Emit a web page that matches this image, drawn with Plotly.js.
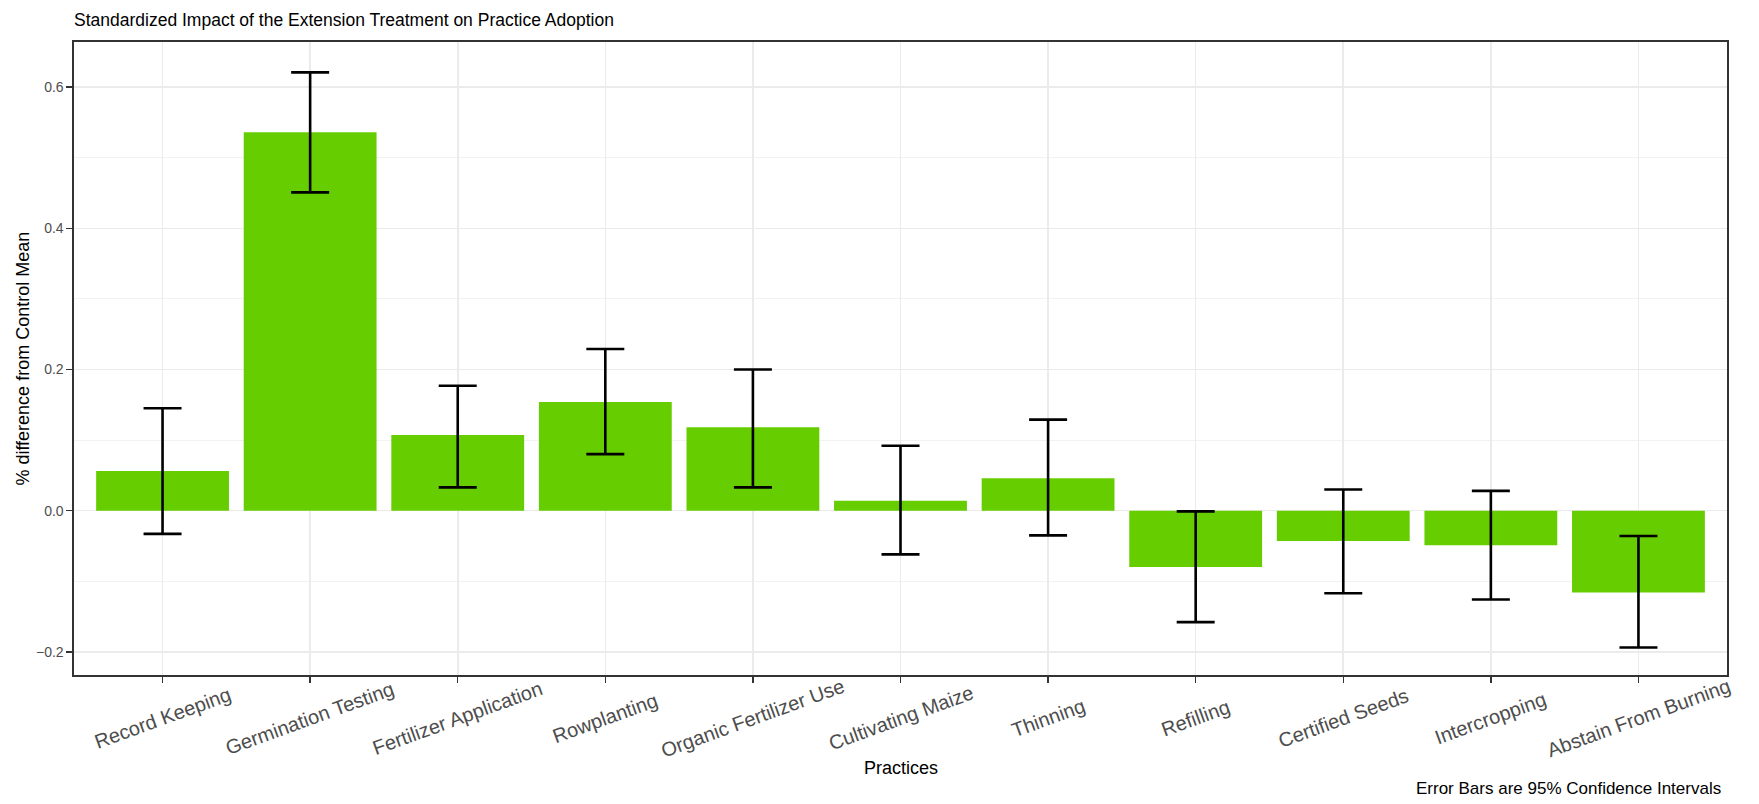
<!DOCTYPE html>
<html>
<head>
<meta charset="utf-8">
<script src="https://cdn.plot.ly/plotly-3.0.1.min.js"></script>
<style>
  html, body { margin: 0; padding: 0; background: #ffffff; }
  #chart { width: 1759px; height: 804px; }
</style>
</head>
<body>
<div id="chart"></div>
<script>
// Practices on the x axis
const practices = [
  "Record Keeping", "Germination Testing", "Fertilizer Application", "Rowplanting",
  "Organic Fertilizer Use", "Cultivating Maize", "Thinning", "Refilling",
  "Certified Seeds", "Intercropping", "Abstain From Burning"
];
// Standardized treatment effect (difference from control mean)
const estimate = [0.056, 0.536, 0.107, 0.154, 0.118, 0.014, 0.046, -0.080, -0.043, -0.049, -0.116];
// 95% confidence interval bounds
const ciLower = [-0.033, 0.451, 0.033, 0.080, 0.033, -0.062, -0.035, -0.158, -0.117, -0.126, -0.194];
const ciUpper = [0.145, 0.621, 0.177, 0.229, 0.200, 0.092, 0.129, -0.001, 0.030, 0.028, -0.036];
// y axis tick values
const yTicks = [-0.2, 0.0, 0.2, 0.4, 0.6];

const FONT = "Liberation Sans, Arial, Helvetica, sans-serif";

const errPlus = estimate.map((v, i) => ciUpper[i] - v);
const errMinus = estimate.map((v, i) => v - ciLower[i]);

const trace = {
  type: "bar",
  x: practices,
  y: estimate,
  marker: { color: "#66CD00", line: { width: 0 } },
  error_y: {
    type: "data",
    symmetric: false,
    array: errPlus,
    arrayminus: errMinus,
    color: "#000000",
    thickness: 2.6,
    width: 19
  },
  hoverinfo: "x+y"
};

// Rotated category labels centred under each tick
const labelAnnotations = practices.map(p => ({
  text: p,
  x: p, xref: "x",
  y: -0.068, yref: "paper",
  xanchor: "center", yanchor: "middle",
  textangle: -20,
  showarrow: false,
  font: { family: FONT, size: 20, color: "#4D4D4D" }
}));

// Plot area in page pixels
const M = { l: 74, r: 31.5, t: 41.5, b: 129 };
const plotW = 1759 - M.l - M.r;

const layout = {
  width: 1759,
  height: 804,
  paper_bgcolor: "#ffffff",
  plot_bgcolor: "#ffffff",
  margin: M,
  bargap: 0.1,
  showlegend: false,
  font: { family: FONT },
  title: {
    text: "Standardized Impact of the Extension Treatment on Practice Adoption",
    font: { family: FONT, size: 17.5, color: "#000000" },
    x: 74 / 1759, xref: "container", xanchor: "left",
    y: 1 - 20 / 804, yref: "container", yanchor: "middle"
  },
  xaxis: {
    type: "category",
    range: [-0.6, 10.6],
    showticklabels: false,
    ticks: "outside",
    ticklen: 6,
    tickwidth: 1.5,
    tickcolor: "#333333",
    showgrid: true,
    gridcolor: "#EBEBEB",
    gridwidth: 1.6,
    showline: true,
    linecolor: "#333333",
    linewidth: 1.6,
    mirror: true,
    zeroline: false,
    fixedrange: true
  },
  yaxis: {
    range: [-0.2329, 0.664],
    tickvals: yTicks,
    tickformat: ".1f",
    ticks: "outside",
    ticklen: 6,
    tickwidth: 1.5,
    tickcolor: "#333333",
    tickfont: { family: FONT, size: 14, color: "#4D4D4D" },
    showgrid: true,
    gridcolor: "#EBEBEB",
    gridwidth: 1.6,
    minor: { dtick: 0.1, tick0: 0, showgrid: true, gridcolor: "#F2F2F2", gridwidth: 1 },
    showline: true,
    linecolor: "#333333",
    linewidth: 1.6,
    mirror: true,
    zeroline: false,
    fixedrange: true
  },
  annotations: labelAnnotations.concat([
    {
      text: "Practices",
      x: 0.5, xref: "paper",
      y: -0.147, yref: "paper",
      xanchor: "center", yanchor: "middle",
      showarrow: false,
      font: { family: FONT, size: 18, color: "#000000" }
    },
    {
      text: "% difference from Control Mean",
      x: -0.0314, xref: "paper",
      y: 0.5, yref: "paper",
      xanchor: "center", yanchor: "middle",
      textangle: -90,
      showarrow: false,
      font: { family: FONT, size: 18, color: "#000000" }
    },
    {
      text: "Error Bars are 95% Confidence Intervals",
      x: (1723 - M.l) / plotW, xref: "paper",
      y: -0.179, yref: "paper",
      xanchor: "right", yanchor: "middle",
      showarrow: false,
      font: { family: FONT, size: 17, color: "#000000" }
    }
  ])
};

Plotly.newPlot("chart", [trace], layout, { displayModeBar: false, staticPlot: true });
</script>
</body>
</html>
